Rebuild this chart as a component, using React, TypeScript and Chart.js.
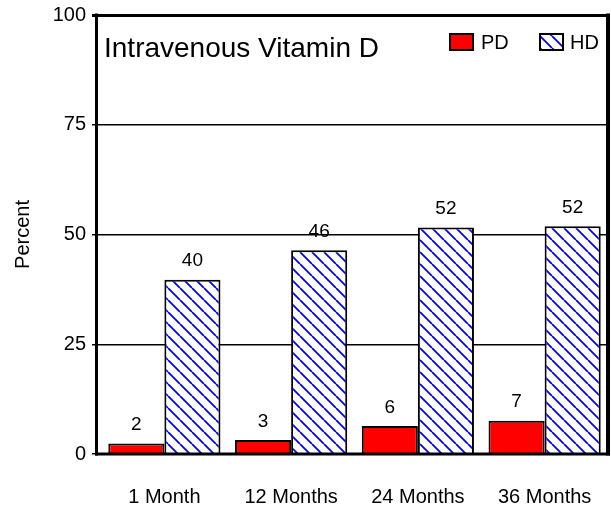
import React, { useEffect, useRef } from "react";
import { Chart, registerables } from "chart.js";

Chart.register(...registerables);

const categories = ["1 Month", "12 Months", "24 Months", "36 Months"];
const seriesNames = ["PD", "HD"];
const pdValues = [2.4, 3.2, 6.4, 7.6];
const hdValues = [39.7, 46.4, 51.6, 51.9];
const pdLabels = ["2", "3", "6", "7"];
const hdLabels = ["40", "46", "52", "52"];
const yTicks = [0, 25, 50, 75, 100];
const chartTitle = "Intravenous Vitamin D";
const yTitle = "Percent";

const FONT = "'Liberation Sans', Arial, sans-serif";

function makeHatch(): CanvasPattern | string {
  const c = document.createElement("canvas");
  const s = 12;
  c.width = s;
  c.height = s;
  const g = c.getContext("2d");
  if (!g) return "#ffffff";
  g.fillStyle = "#ffffff";
  g.fillRect(0, 0, s, s);
  g.strokeStyle = "#0000ff";
  g.lineWidth = 1.8;
  g.beginPath();
  for (const k of [-s, 0, s]) {
    g.moveTo(k, 0);
    g.lineTo(k + s, s);
  }
  g.stroke();
  const p = g.createPattern(c, "repeat");
  return p || "#ffffff";
}

export default function App() {
  const ref = useRef<HTMLCanvasElement | null>(null);

  useEffect(() => {
    if (!ref.current) return;
    const hatch = makeHatch();
    const labelSets = [pdLabels, hdLabels];

    const overlay = {
      id: "overlay",
      afterDatasetsDraw(chart: any) {
        const ctx = chart.ctx;
        ctx.save();
        ctx.fillStyle = "#000";
        ctx.font = `19px ${FONT}`;
        ctx.textAlign = "center";
        ctx.textBaseline = "bottom";
        chart.data.datasets.forEach((ds: any, di: number) => {
          const meta = chart.getDatasetMeta(di);
          meta.data.forEach((el: any, i: number) => {
            ctx.fillText(labelSets[di][i], el.x, el.y - 9);
          });
        });
        ctx.restore();
      },
      afterDraw(chart: any) {
        const ctx = chart.ctx;
        const a = chart.chartArea;
        const axisX = 96.5;
        ctx.save();
        ctx.strokeStyle = "#000";
        ctx.lineCap = "butt";
        // left axis
        ctx.lineWidth = 3;
        ctx.beginPath();
        ctx.moveTo(axisX, a.top - 1.5);
        ctx.lineTo(axisX, a.bottom + 1.5);
        ctx.stroke();
        // bottom axis
        ctx.beginPath();
        ctx.moveTo(axisX - 1.5, a.bottom);
        ctx.lineTo(a.right + 2, a.bottom);
        ctx.stroke();
        // right frame
        ctx.lineWidth = 4;
        ctx.beginPath();
        ctx.moveTo(a.right, a.top - 1.5);
        ctx.lineTo(a.right, a.bottom + 1.5);
        ctx.stroke();
        // title
        ctx.fillStyle = "#000";
        ctx.font = `28px ${FONT}`;
        ctx.textAlign = "left";
        ctx.textBaseline = "alphabetic";
        ctx.fillText(chartTitle, 104, 57);
        // legend
        ctx.lineWidth = 2;
        ctx.fillStyle = "#ff0000";
        ctx.fillRect(450, 34, 23, 16);
        ctx.strokeRect(450, 34, 23, 16);
        ctx.fillStyle = hatch as any;
        ctx.fillRect(540, 34, 23, 16);
        ctx.strokeRect(540, 34, 23, 16);
        ctx.fillStyle = "#000";
        ctx.font = `20px ${FONT}`;
        ctx.textBaseline = "middle";
        ctx.fillText(seriesNames[0], 481, 43);
        ctx.fillText(seriesNames[1], 570, 43);
        ctx.restore();
      },
    };

    const chart = new Chart(ref.current, {
      type: "bar",
      data: {
        labels: categories,
        datasets: [
          {
            label: seriesNames[0],
            data: pdValues,
            backgroundColor: "#ff0000",
            borderColor: "#000",
            borderWidth: 2,
            barPercentage: 1,
            categoryPercentage: 0.885,
          },
          {
            label: seriesNames[1],
            data: hdValues,
            backgroundColor: hatch as any,
            borderColor: "#000",
            borderWidth: 2,
            barPercentage: 1,
            categoryPercentage: 0.885,
          },
        ],
      },
      options: {
        animation: false,
        responsive: true,
        maintainAspectRatio: false,
        layout: { padding: { top: 15, right: 3, left: 0, bottom: 0 } },
        plugins: {
          legend: { display: false },
          title: { display: false },
          tooltip: { enabled: false },
        },
        scales: {
          x: {
            grid: { display: false },
            border: { display: false },
            ticks: {
              color: "#000",
              font: { family: FONT, size: 20 },
              padding: 23,
            },
            afterFit(scale: any) {
              scale.height = 56;
              scale.paddingLeft = 0;
              scale.paddingRight = 0;
            },
          },
          y: {
            min: 0,
            max: 100,
            afterBuildTicks(scale: any) {
              scale.ticks = yTicks.map((v) => ({ value: v }));
            },
            ticks: {
              color: "#000",
              font: { family: FONT, size: 20 },
              padding: 6,
            },
            grid: {
              color: "#000",
              lineWidth: (c: any) => (c.tick && c.tick.value === 100 ? 3 : 1.5),
              tickLength: 9,
              drawTicks: true,
            },
            border: { display: false },
            title: {
              display: true,
              text: yTitle,
              color: "#000",
              font: { family: FONT, size: 20 },
              padding: { top: 11, bottom: 0 },
            },
            afterFit(scale: any) {
              scale.width = 101;
              scale.paddingTop = 0;
              scale.paddingBottom = 0;
            },
          },
        },
      },
      plugins: [overlay],
    });

    return () => chart.destroy();
  }, []);

  return (
    <div
      style={{
        position: "absolute",
        left: 0,
        top: 0,
        width: 611,
        height: 510,
        overflow: "hidden",
        background: "#fff",
      }}
    >
      <canvas ref={ref} style={{ display: "block" }} />
    </div>
  );
}
